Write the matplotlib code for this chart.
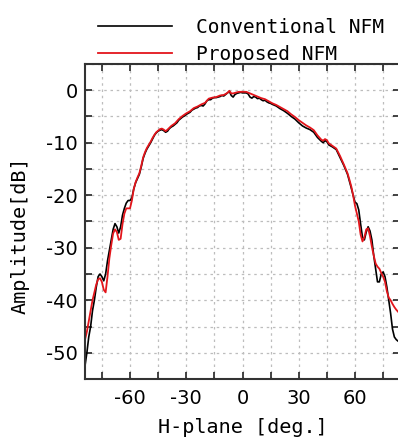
import numpy as np
import matplotlib
matplotlib.use('Agg')
import matplotlib.pyplot as plt
from matplotlib.ticker import FixedLocator

# H-plane angle [deg.] and amplitude [dB]
convAngle = [-84, -83, -82, -81, -80, -79, -78, -77, -76, -75, -74, -73, -72, -71, -70,
             -69, -68, -67, -66, -65, -64, -63, -62, -61, -60, -59, -58, -57, -56, -55,
             -54, -53, -52, -51, -50, -49, -48, -47, -46, -45, -44, -43, -42, -41, -40,
             -39, -38, -37, -36, -35, -34, -33, -32, -31, -30, -29, -28, -27, -26, -25,
             -24, -23, -22, -21, -20, -19, -18, -17, -16, -15, -14, -13, -12, -11, -10,
             -9, -8, -7, -6, -5, -4, -3, -2, -1, 0, 1, 2, 3, 4, 5, 6, 7, 8, 9, 10,
             11, 12, 13, 14, 15, 16, 18, 20, 22, 24, 26, 28, 30, 32, 34, 36, 38, 40,
             42, 43, 44, 45, 46, 48, 50, 52, 54, 56, 57, 58, 59, 60, 61, 62, 63, 64,
             65, 66, 67, 68, 69, 70, 71, 72, 73, 74, 75, 76, 77, 78, 79, 80, 81, 82, 83, 84]
convAmp = [-52.5, -50, -47, -45, -42, -40, -37.5, -35.5, -35, -35.5, -36.3, -35, -32.5, -30.5, -28.5,
           -26.5, -25.4, -26, -27.2, -26, -23.8, -22.5, -21.5, -21, -21, -20.5, -18.8, -17.6, -16.8, -16,
           -14.6, -13, -12, -11.2, -10.6, -10, -9.3, -8.6, -8.1, -7.8, -7.6, -7.5, -7.7, -8, -7.8,
           -7.3, -7, -6.8, -6.5, -6.2, -5.7, -5.4, -5.1, -4.9, -4.6, -4.4, -4.2, -3.8, -3.6, -3.4,
           -3.3, -3.0, -2.9, -3.0, -2.6, -2.0, -1.8, -1.8, -1.5, -1.4, -1.4, -1.3, -1.2, -1.0, -1.1,
           -0.8, -0.5, -0.2, -1.0, -1.3, -0.8, -0.6, -0.5, -0.4, -0.5, -0.5, -0.5, -0.7, -1.3, -1.5,
           -1.2, -1.3, -1.6, -1.5, -1.8,
           -2.0, -1.9, -2.2, -2.4, -2.5, -2.7, -3.0, -3.5, -3.9, -4.4, -5.0, -5.5, -6.2, -6.8, -7.2,
           -7.5, -8.0, -9.0,
           -9.7, -10.0, -9.6, -9.8, -10.4, -10.8, -11.3, -12.8, -14.3, -16.0, -17.3, -18.6, -20, -21.3,
           -21.6, -22.8, -25.5, -28,
           -28.5, -27, -26, -26.8, -28.5, -31.5, -34, -36.5, -36.5, -35, -34.6, -35.5, -37.5, -40,
           -42.5, -45.5, -47, -47.5, -47.8, -48]

propAngle = [-84, -83, -82, -81, -80, -79, -78, -77, -76, -75, -74, -73, -72, -71, -70,
             -69, -68, -67, -66, -65, -64, -63, -62, -61, -60, -59, -58, -57, -56, -55,
             -54, -53, -52, -51, -50, -49, -48, -47, -46, -45, -44, -43, -42, -41, -40,
             -38, -36, -34, -32, -30, -28, -26, -24, -22, -20, -19, -18, -16, -14, -12,
             -10, -8, -7, -6, -5, -4, -2, 0, 2, 4, 6, 8, 10, 12, 14, 16, 18, 20, 22, 24,
             26, 28, 30, 32, 34, 36, 38, 40, 42, 43, 44, 45, 46, 48, 50, 52, 54, 56, 57,
             58, 59, 60, 61, 62, 63, 64, 65, 66, 67, 68, 69, 70, 71, 72, 73, 74, 75, 76,
             77, 78, 79, 80, 81, 82, 83, 84]
propAmp = [-47.5, -46, -44, -42, -40, -38.5, -37, -36, -35.8, -36.5, -38, -38.5, -35.5, -32, -29.5,
           -27.3, -26.5, -27, -28.5, -28.3, -25.5, -23.5, -22.5, -22.5, -22.5, -21, -18.8, -17.5, -16.6, -15.8,
           -14.4, -12.8, -11.8, -11.0, -10.4, -9.8, -9.1, -8.5, -8.0, -7.7, -7.4, -7.3, -7.5, -7.8, -7.5,
           -6.8, -6.3, -5.5, -4.9, -4.4, -4.0, -3.4, -3.1, -2.7, -2.4, -2.0, -1.6, -1.4, -1.3, -1.0,
           -0.9, -0.5, -0.1, -0.6, -0.6, -0.5, -0.3, -0.3, -0.3, -0.6, -0.9, -1.2, -1.5, -1.7, -2.1,
           -2.5, -2.8, -3.2, -3.6, -4.0,
           -4.6, -5.1, -5.7, -6.2, -6.7, -7.1, -7.6, -8.6, -9.4, -9.6, -9.3, -9.5, -10.1, -10.6, -11.1,
           -12.5, -14.1, -15.8, -17.0,
           -18.3, -20, -22, -23.5, -25, -27.5, -28.8, -28, -26.5, -26.3, -27.8, -29.8, -31.5, -33,
           -33.6, -34, -34.8, -35.5, -36.5,
           -38.3, -39.5, -40, -40.7, -41.3, -41.8, -42.2, -42.6]

labelFont = 'DejaVu Sans Mono'
plt.rcParams['axes.unicode_minus'] = False

fig = plt.figure(figsize=(3.98, 4.42), dpi=100)
ax = fig.add_axes([85 / 398, 63 / 442, 315 / 398, 315 / 442])

ax.plot(convAngle, convAmp, color='black', lw=1.2, label='Conventional NFM')
ax.plot(propAngle, propAmp, color='#e3151b', lw=1.3, label='Proposed NFM')

ax.set_xlim(-84, 84)
ax.set_ylim(-55, 5)

ax.xaxis.set_major_locator(FixedLocator([-60, -30, 0, 30, 60]))
ax.xaxis.set_minor_locator(FixedLocator([-75, -45, -15, 15, 45, 75]))
ax.yaxis.set_major_locator(FixedLocator([-50, -40, -30, -20, -10, 0]))
ax.yaxis.set_minor_locator(FixedLocator([-55, -45, -35, -25, -15, -5, 5]))

ax.grid(True, which='both', color='#bdbdbd', linestyle=(0, (2, 3)), lw=0.9)
ax.tick_params(which='both', direction='in', length=5, width=1.2, top=True, right=True,
               color='#222222')
ax.tick_params(axis='x', which='major', labelsize=14, pad=7)
ax.tick_params(axis='y', which='major', labelsize=14, pad=5)
for s in ax.spines.values():
    s.set_linewidth(1.5)
    s.set_color('#333333')

ax.set_xlabel('H-plane [deg.]', fontsize=14.5, family=labelFont)
ax.xaxis.set_label_coords(0.5, -0.125)
ax.set_ylabel('Amplitude[dB]', fontsize=14.5, family=labelFont)
ax.yaxis.set_label_coords(-0.175, 0.457)

ax.legend(loc='lower left', bbox_to_anchor=(0.042, 1.0), frameon=False,
          prop={'family': labelFont, 'size': 14}, handlelength=3.8, handletextpad=1.25,
          labelspacing=0.4, borderpad=0.0, borderaxespad=0.0)

fig.savefig('out.png', dpi=100)
